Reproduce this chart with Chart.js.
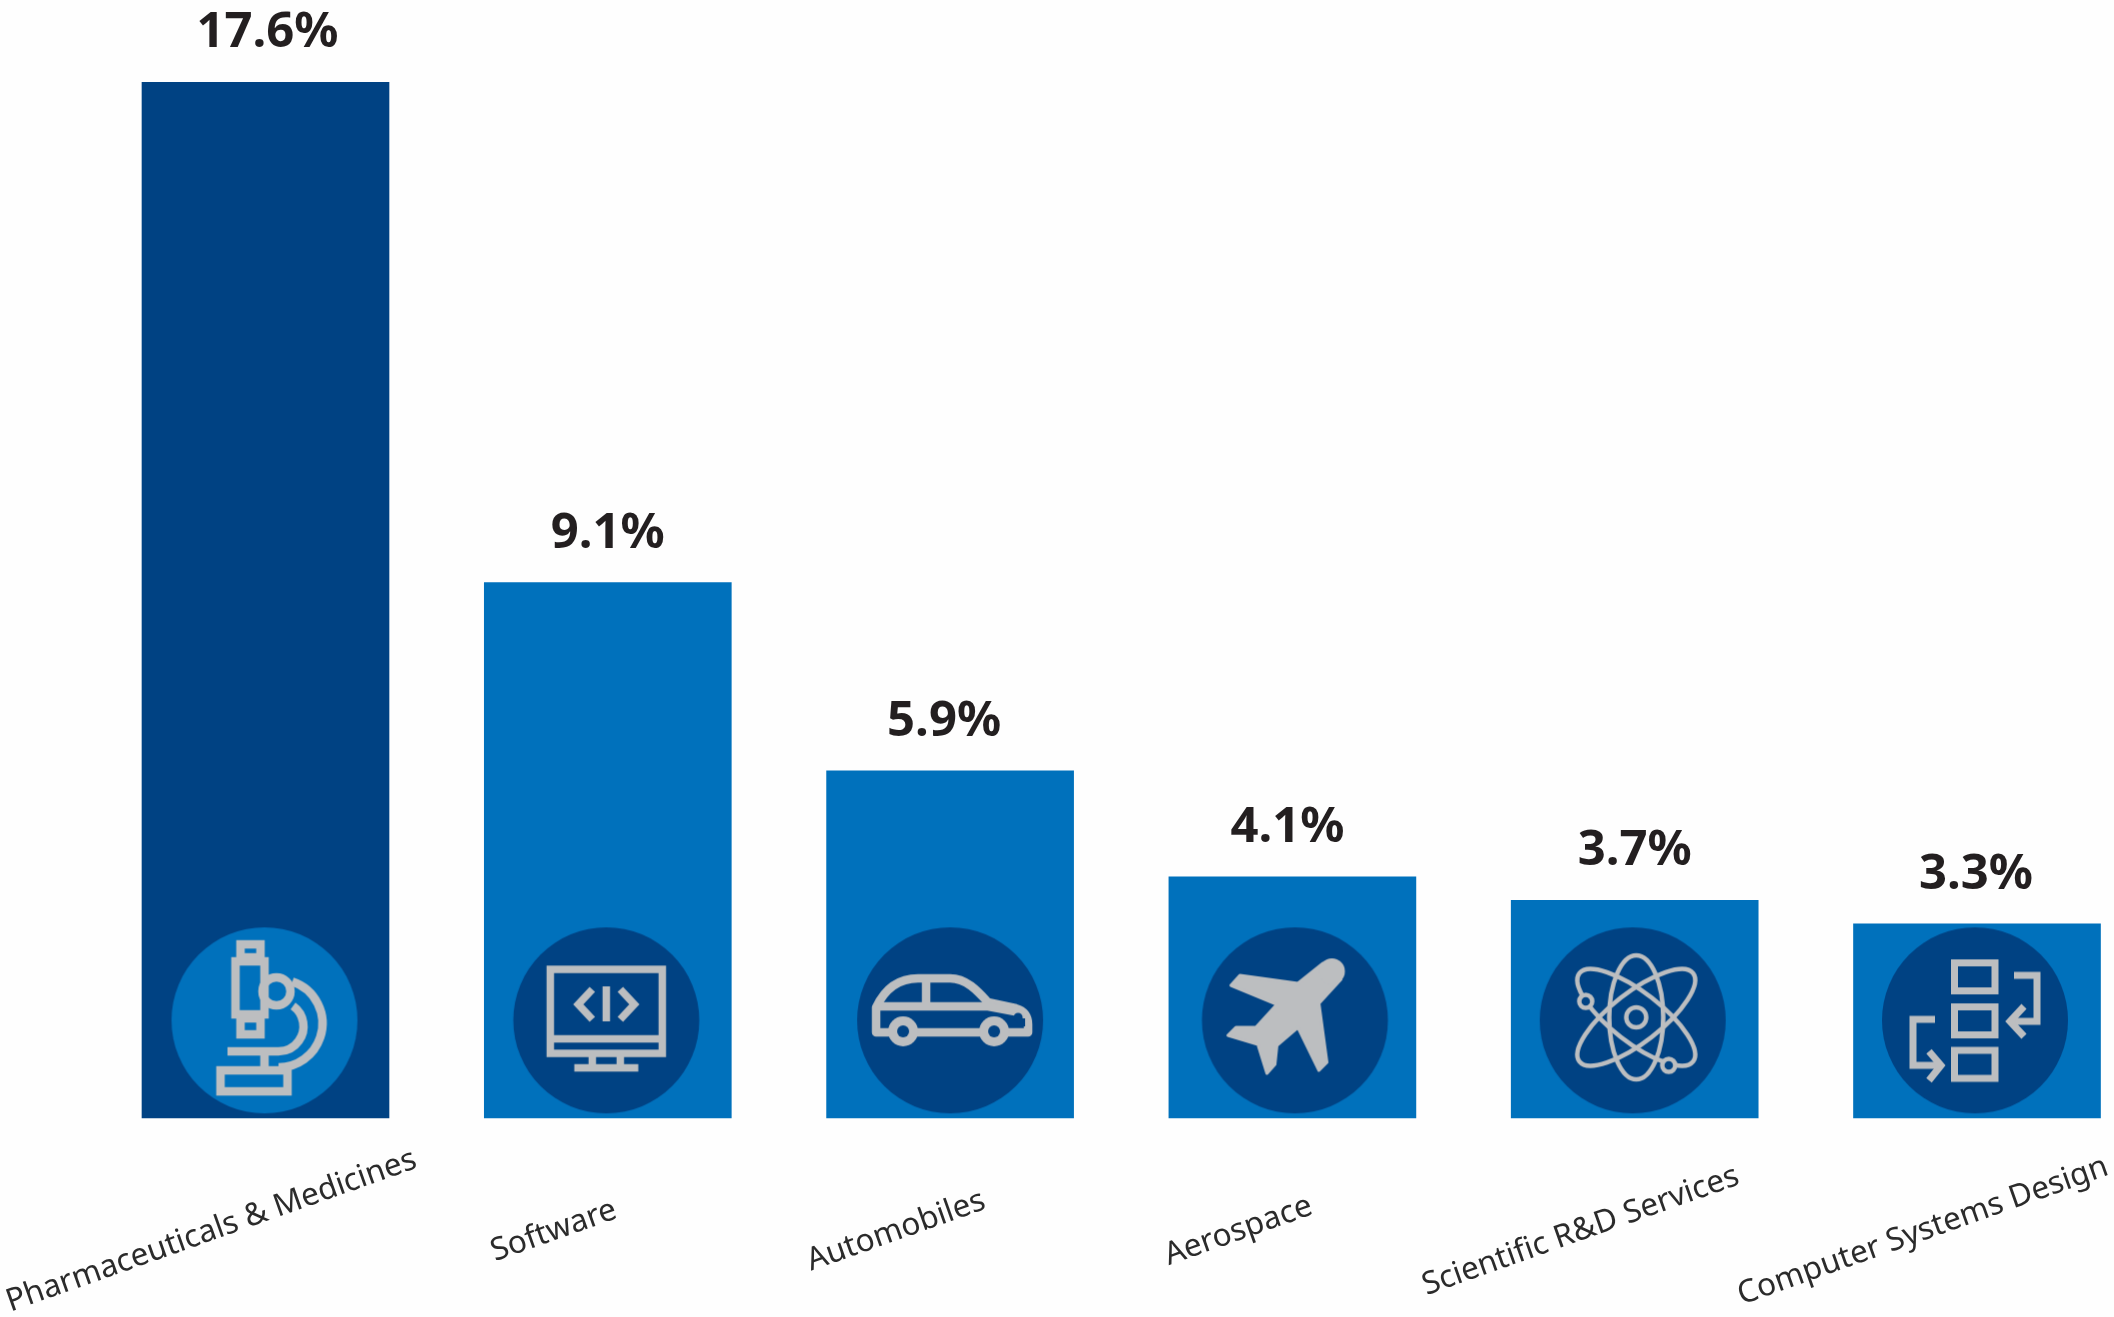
<!DOCTYPE html>
<html>
<head>
<meta charset="utf-8">
<title>R&amp;D spending by industry</title>
<script src="https://cdn.jsdelivr.net/npm/chart.js@4"></script>
<style>
    html, body { margin: 0; padding: 0; background: #fefefe; }
    canvas { display: block; }
</style>
</head>
<body>
<canvas id="chart" width="2114" height="1317"></canvas>
<script>
const categories = ["Pharmaceuticals & Medicines", "Software", "Automobiles", "Aerospace", "Scientific R&D Services", "Computer Systems Design"];
const shares = [17.6, 9.1, 5.9, 4.1, 3.7, 3.3];
const badgeLevels = [1.66, 1.66, 1.66, 1.66, 1.66, 1.66];

const DARK = "#004283";
const BLUE = "#0071bc";
const GREY = "#bcbec0";
const INK = "#231f20";

const barColors = [DARK, BLUE, BLUE, BLUE, BLUE, BLUE];
const badgeColors = [BLUE, DARK, DARK, DARK, DARK, DARK];
// the reference labels and badges are not quite centred on their bars
const valueShift = [2, 0, -6, -5, 0, -1];
const badgeShift = [-1, -1.5, 0, 2.5, -2, -2];

function rectLine(c, x0, y0, x1, y1) {
    c.strokeRect(x0, y0, x1 - x0, y1 - y0);
}

function poly(c, pts, close) {
    c.beginPath();
    pts.forEach(function(p, i) {
        if (i == 0) c.moveTo(p[0], p[1]);
        else c.lineTo(p[0], p[1]);
    });
    if (close) c.closePath();
}

const icons = [
    function microscope(c) {
        c.lineWidth = 8.5;
        rectLine(c, -24, -76, -4, -63);
        rectLine(c, -29, -59, 0, -6);
        rectLine(c, -24, -2, -4, 14);
        c.beginPath();
        c.arc(12, -29, 14, 0, Math.PI * 2);
        c.stroke();
        c.beginPath();
        c.arc(14, 3, 44, -1.25, Math.PI / 2);
        c.stroke();
        c.beginPath();
        c.arc(14, 6, 25, -0.95, Math.PI / 2);
        c.lineTo(-37, 31);
        c.stroke();
        poly(c, [[0, 35], [0, 47]]);
        c.stroke();
        rectLine(c, -44, 50, 23, 71);
    },
    function monitor(c) {
        c.lineWidth = 7.5;
        rectLine(c, -56, -51, 56, 33);
        poly(c, [[-56, 18.5], [56, 18.5]]);
        c.stroke();
        poly(c, [[-14, 36], [-14, 44]]);
        c.stroke();
        poly(c, [[14, 36], [14, 44]]);
        c.stroke();
        poly(c, [[-32, 47.5], [32, 47.5]]);
        c.stroke();
        poly(c, [[0, -34], [0, 1]]);
        c.stroke();
        poly(c, [[-14, -31], [-28, -16], [-14, -1]]);
        c.stroke();
        poly(c, [[14, -31], [28, -16], [14, -1]]);
        c.stroke();
    },
    function car(c, bg) {
        c.lineWidth = 8.5;
        c.lineJoin = "round";
        c.beginPath();
        c.moveTo(-47, 12);
        c.lineTo(-74, 12);
        c.lineTo(-74, -13);
        c.bezierCurveTo(-65, -32, -52, -42, -32, -42);
        c.lineTo(0, -42);
        c.bezierCurveTo(16, -42, 27, -30, 38, -18);
        c.lineTo(66, -12);
        c.bezierCurveTo(74, -10, 78, -4, 78, 4);
        c.lineTo(78, 12);
        c.lineTo(-47, 12);
        c.stroke();
        poly(c, [[-74, -14], [38, -14], [70, -8]]);
        c.stroke();
        poly(c, [[-24, -42], [-24, -14]]);
        c.stroke();
        [-47, 44].forEach(function(x) {
            c.fillStyle = GREY;
            c.beginPath();
            c.arc(x, 11, 15, 0, Math.PI * 2);
            c.fill();
            c.fillStyle = bg;
            c.beginPath();
            c.arc(x, 11, 6, 0, Math.PI * 2);
            c.fill();
        });
        c.fillStyle = bg;
        c.beginPath();
        c.arc(68, -3, 4.5, 0, Math.PI * 2);
        c.fill();
        c.fillRect(67, -2, 8, 8);
    },
    function plane(c) {
        c.lineWidth = 3;
        c.lineJoin = "round";
        c.fillStyle = GREY;
        poly(c, [[28, -57], [3, -37], [-55, -45], [-64, -35], [-18, -16], [-39, 7], [-59, 7], [-67, 15], [-37, 24], [-28, 53], [-20, 44], [-18, 25], [3, 7], [24, 50], [32, 42], [24, -17], [46, -41]], true);
        c.fill();
        c.stroke();
        c.beginPath();
        c.arc(37, -49, 13, 0, Math.PI * 2);
        c.fill();
    },
    function atom(c, bg) {
        c.lineWidth = 4.5;
        [[27, 62, 0], [25, 72, 0.91], [25, 72, -0.91]].forEach(function(e) {
            c.beginPath();
            c.ellipse(3.5, -3, e[0], e[1], e[2], 0, Math.PI * 2);
            c.stroke();
        });
        c.beginPath();
        c.arc(3.5, -3, 10, 0, Math.PI * 2);
        c.stroke();
        [[-47, -19], [36, 45]].forEach(function(p) {
            c.fillStyle = bg;
            c.beginPath();
            c.arc(p[0], p[1], 6.5, 0, Math.PI * 2);
            c.fill();
            c.stroke();
        });
    },
    function flow(c) {
        c.lineWidth = 7;
        rectLine(c, -20.5, -57.5, 20, -29.5);
        rectLine(c, -20.5, -13.5, 20, 14.5);
        rectLine(c, -20.5, 30, 20, 58);
        poly(c, [[39, -45], [62, -45], [62, 1], [35, 1]]);
        c.stroke();
        poly(c, [[49, -14], [35, 1], [49, 16]]);
        c.stroke();
        poly(c, [[-40, -1], [-62, -1], [-62, 45], [-35, 45]]);
        c.stroke();
        poly(c, [[-46, 31], [-34, 45], [-46, 60]]);
        c.stroke();
    }
];

function badge(i) {
    let canvas = document.createElement("canvas");
    canvas.width = 200;
    canvas.height = 200;
    let c = canvas.getContext("2d");
    c.translate(100 + badgeShift[i], 100);
    c.fillStyle = badgeColors[i];
    c.beginPath();
    c.arc(0, 0, 93, 0, Math.PI * 2);
    c.fill();
    c.strokeStyle = GREY;
    c.fillStyle = GREY;
    icons[i](c, badgeColors[i]);
    return canvas;
}

const textPlugin = {
    id: "textPlugin",
    afterDatasetsDraw(chart) {
        let ctx = chart.ctx;
        let bars = chart.getDatasetMeta(1).data;
        ctx.save();
        ctx.textAlign = "center";

        ctx.fillStyle = INK;
        ctx.font = "bold 49px 'Noto Sans'";
        ctx.textBaseline = "alphabetic";
        bars.forEach(function(bar, i) {
            ctx.fillText(shares[i].toFixed(1) + "%", bar.x + valueShift[i], bar.y - 35);
        });

        ctx.fillStyle = "#2b2b2b";
        ctx.font = "31.5px 'Noto Sans'";
        ctx.textBaseline = "middle";
        bars.forEach(function(bar, i) {
            ctx.save();
            ctx.translate(bar.x - 54, 1231);
            ctx.rotate(-19.5 * Math.PI / 180);
            ctx.fillText(categories[i], 0, 0);
            ctx.restore();
        });
        ctx.restore();
    }
};

new Chart(document.getElementById("chart"), {
    type: "bar",
    data: {
        labels: categories,
        datasets: [
            {
                type: "line",
                data: badgeLevels,
                showLine: false,
                pointStyle: categories.map(function(name, i) { return badge(i); }),
                pointRadius: 100,
                order: 0,
                clip: false
            },
            {
                data: shares,
                backgroundColor: barColors,
                barThickness: 247,
                order: 1,
                clip: false
            }
        ]
    },
    options: {
        responsive: false,
        animation: false,
        layout: { autoPadding: false, padding: { left: 265.5, right: 137, top: 0, bottom: 199 } },
        plugins: { legend: { display: false }, tooltip: { enabled: false } },
        scales: {
            x: { display: false, offset: false },
            y: { display: false, min: 0, max: 19 }
        }
    },
    plugins: [textPlugin]
});
</script>
</body>
</html>
